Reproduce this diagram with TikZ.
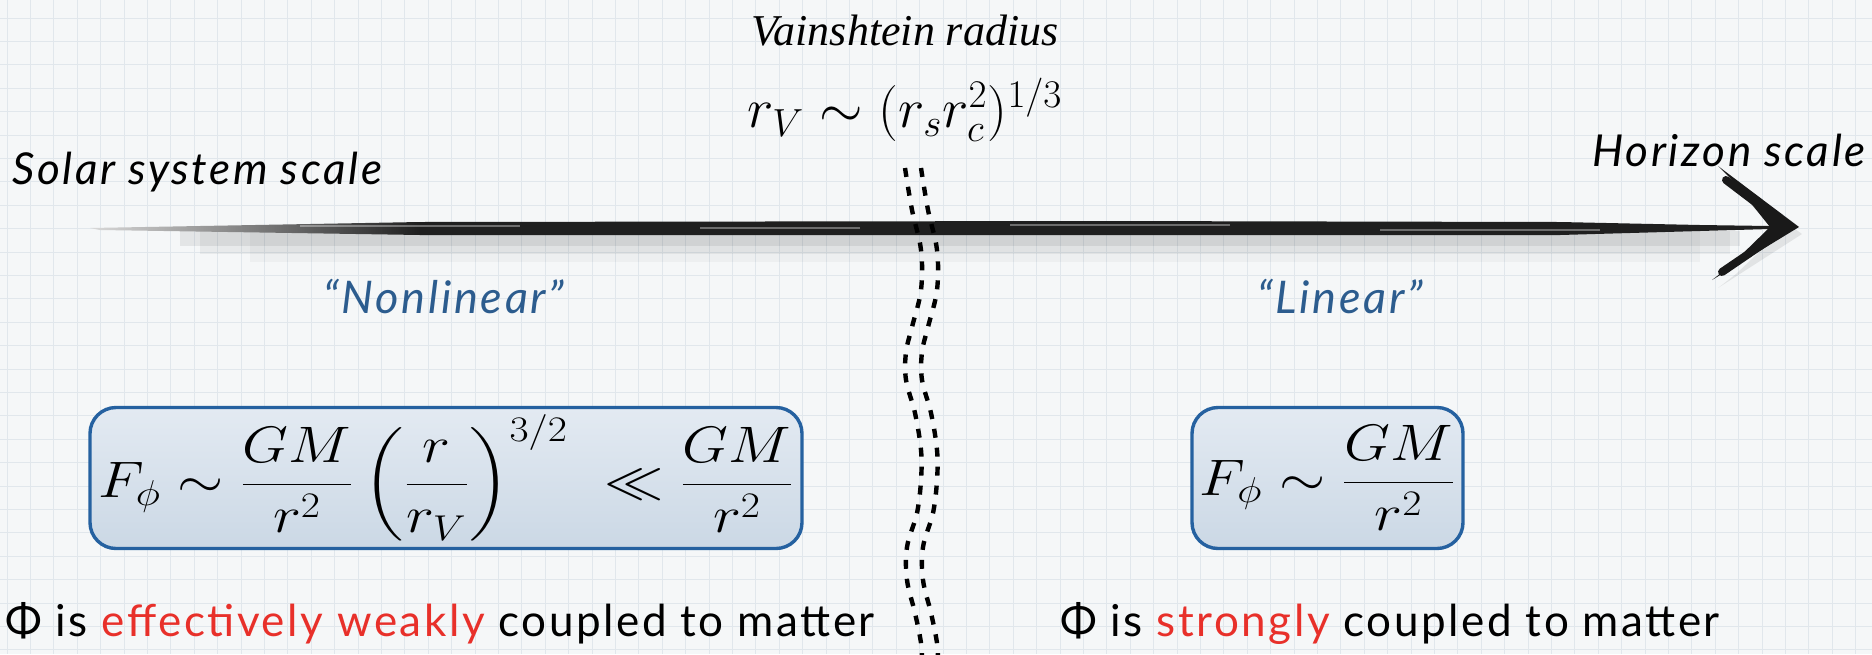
\RequirePackage{fix-cm}
\documentclass[tikz,border=0pt]{standalone}
\usepackage{fontspec}
\usepackage{amsmath}
\usepackage{graphicx}
\newfontfamily\hand{Lato}[LetterSpace=6]
\newfontfamily\chalk{Lato}[LetterSpace=5.8]
\newfontfamily\vserif{Liberation Serif}
\usetikzlibrary{calc}
\definecolor{bgc}{HTML}{F5F7F8}
\definecolor{gridc}{HTML}{E1E7EC}
\definecolor{boxborder}{HTML}{2561A0}
\definecolor{boxtop}{HTML}{E3EAF2}
\definecolor{boxbot}{HTML}{CBD8E5}
\definecolor{labblue}{HTML}{2C5C8E}
\definecolor{hotred}{HTML}{E8302A}
\tikzset{
  gridline/.style={draw=gridc, line width=0.5pt},
  formbox/.style={draw=boxborder, line width=1.7pt, rounded corners=13pt,
     top color=boxtop, bottom color=boxbot, inner sep=0pt},
  handtext/.style={font=\hand\itshape\fontsize{22}{26}\selectfont, inner sep=0pt},
  regimelabel/.style={font=\hand\itshape\fontsize{22.5}{26}\selectfont, text=labblue, inner sep=0pt},
  chalktext/.style={font=\chalk\fontsize{22}{26}\selectfont, inner sep=0pt},
  vdash/.style={line width=2.2pt, dash pattern=on 4.5pt off 5pt},
}
\newcommand{\boxform}[1]{\raisebox{-3.5pt}{\scalebox{1.10}[0.95]{\fontsize{27}{32}\selectfont$\displaystyle #1$}}}
\begin{document}
\begin{tikzpicture}[x=0.5pt,y=-0.5pt]
\useasboundingbox (0,0) rectangle (1872,654);
\fill[bgc] (0,0) rectangle (1872,654);
\foreach \i in {0,...,79} { \draw[gridline] ({7+23.4*\i},0) -- ({7+23.4*\i},654); }
\foreach \j in {0,...,27} { \draw[gridline] (0,{18+23.4*\j}) -- (1872,{18+23.4*\j}); }

% brush arrow
\coordinate (start) at (90,228);
\coordinate (tip) at (1794,227);
\fill[black,opacity=0.07] (180,231) -- (1740,231) -- (1740,246) -- (180,246) -- cycle;
\fill[black,opacity=0.05] (200,231) -- (1730,231) -- (1730,254) -- (200,254) -- cycle;
\fill[black,opacity=0.03] (250,231) -- (1700,231) -- (1700,262) -- (250,262) -- cycle;
\shade[left color=black!15, right color=black!88] (start) -- (420,222) -- (420,235) -- (100,230) -- cycle;
\fill[black!88] (420,222) -- (1100,221) -- (1560,222) -- (1700,225) -- (1770,226)
   -- (1770,229) -- (1700,231) -- (1560,235) -- (1100,235) -- (420,235) -- cycle;
\draw[white,opacity=0.35,line width=0.6pt] (300,226) -- (520,226) (700,228) -- (860,228)
   (1010,225) -- (1230,225) (1380,230) -- (1600,230);
% arrow head
\fill[black,opacity=0.08] (1724,178) -- (1802,234) -- (1718,288) -- (1736,274) -- (1778,234) -- (1738,190) -- cycle;
\fill[black!90] (1718,166) -- (1799,227) -- (1712,280) -- (1730,266) -- (1770,227) -- (1733,181) -- cycle;
\draw[black!90,line width=4pt,line cap=round,line join=round] (1726,180) -- (1788,227) -- (1722,272);

% Vainshtein wavy double dashed line
\draw[vdash] plot[smooth, tension=0.6] coordinates {(905,168) (912,210) (921,250) (921,290) (912,327) (906,352) (906,380) (915,413) (921,450) (921,480) (917,513) (907,547) (907,580) (915,613) (921,643) (922,664)};
\draw[vdash] plot[smooth, tension=0.6] coordinates {(921,168) (928,210) (937,250) (937,290) (928,327) (922,352) (922,380) (931,413) (937,450) (937,480) (933,513) (923,547) (923,580) (931,613) (937,643) (938,664)};

% top labels
\node[font=\vserif\itshape\fontsize{22}{26}\selectfont, inner sep=0pt] (vr) at (905,31) {Vainshtein radius};
\node[font=\fontsize{28}{32}\selectfont, inner sep=0pt] (rv) at (905,110) {$r_V \sim (r_s r_c^2)^{1/3}$};
\node[handtext, anchor=west] (solar) at (12,172) {Solar system scale};
\node[handtext, anchor=east] (horizon) at (1866,150) {Horizon scale};

% regime labels
\node[regimelabel] (nonlin) at (444,296) {\char"201C Nonlinear\char"201D};
\node[regimelabel] (lin) at (1340,296) {\char"201C Linear\char"201D};

% boxes
\node[formbox, minimum width=356pt, minimum height=70.5pt] (lbox) at (446,478)
  {\boxform{F_\phi \sim \frac{GM}{r^2}\left(\frac{r}{r_V}\right)^{3/2}\hspace{9pt} \ll \frac{GM}{r^2}}};
\node[formbox, minimum width=135.5pt, minimum height=70.5pt] (rbox) at (1327.5,478)
  {\boxform{F_\phi \sim \frac{GM}{r^2}}};

% bottom statements
\node[chalktext] (lstate) at (440,623) {Φ is \textcolor{hotred}{effectively weakly} coupled to matter};
\node[chalktext] (rstate) at (1390,623) {Φ is \textcolor{hotred}{strongly} coupled to matter};
\end{tikzpicture}
\end{document}
